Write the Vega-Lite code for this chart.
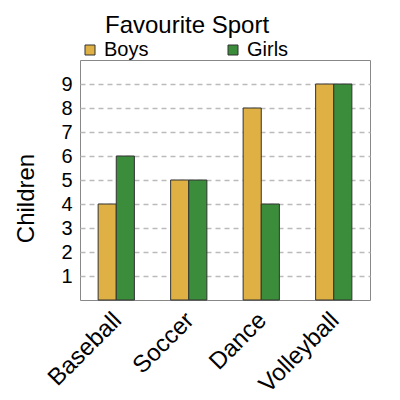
{
  "$schema": "https://vega.github.io/schema/vega-lite/v6.json",
  "autosize": "none",
  "width": 290,
  "height": 240,
  "padding": {"left": 80, "top": 60, "right": 30, "bottom": 100},
  "background": "white",
  "title": {"text": "Favourite Sport", "anchor": "start", "frame": "group", "dx": 25, "offset": 2, "fontSize": 24, "fontWeight": "normal", "font": "Liberation Sans", "color": "black"},
  "config": {
    "font": "Liberation Sans",
    "view": {"stroke": "#888888", "strokeWidth": 1}
  },
  "data": {
    "values": [
      {"sport": "Baseball", "group": "Boys", "children": 4},
      {"sport": "Baseball", "group": "Girls", "children": 6},
      {"sport": "Soccer", "group": "Boys", "children": 5},
      {"sport": "Soccer", "group": "Girls", "children": 5},
      {"sport": "Dance", "group": "Boys", "children": 8},
      {"sport": "Dance", "group": "Girls", "children": 4},
      {"sport": "Volleyball", "group": "Boys", "children": 9},
      {"sport": "Volleyball", "group": "Girls", "children": 9}
    ]
  },
  "mark": {"type": "bar", "stroke": "#333333", "strokeWidth": 1},
  "encoding": {
    "x": {
      "field": "sport", "type": "nominal", "sort": null, "title": null,
      "scale": {"paddingInner": 0.5, "paddingOuter": 0.25},
      "axis": {"labelAngle": -45, "labelFontSize": 24, "labelColor": "black", "ticks": false, "domain": false, "labelPadding": 8, "labelOffset": -7, "labelBaseline": "top", "labelAlign": "right"}
    },
    "xOffset": {"field": "group", "type": "nominal"},
    "y": {
      "field": "children", "type": "quantitative", "title": "Children",
      "scale": {"domain": [0, 10], "nice": false},
      "axis": {"values": [1, 2, 3, 4, 5, 6, 7, 8, 9], "ticks": false, "domain": false, "labelFontSize": 20, "labelColor": "black", "labelPadding": 8,
        "titleFontSize": 24, "titleFontWeight": "normal", "titleColor": "black", "titlePadding": 22, "titleY": 138,
        "grid": true, "gridDash": [5, 4], "gridColor": "#bbbbbb", "gridWidth": 1.5}
    },
    "color": {
      "field": "group", "type": "nominal", "title": null,
      "scale": {"domain": ["Boys", "Girls"], "range": ["#dfb044", "#3b8c3b"]},
      "legend": {"orient": "none", "legendX": 0, "legendY": -20, "direction": "horizontal", "columnPadding": 74,
        "symbolType": "square", "symbolSize": 100, "symbolStrokeColor": "#333333", "symbolStrokeWidth": 1, "symbolOpacity": 1,
        "labelFontSize": 20, "labelColor": "black", "labelOffset": 4}
    }
  }
}
